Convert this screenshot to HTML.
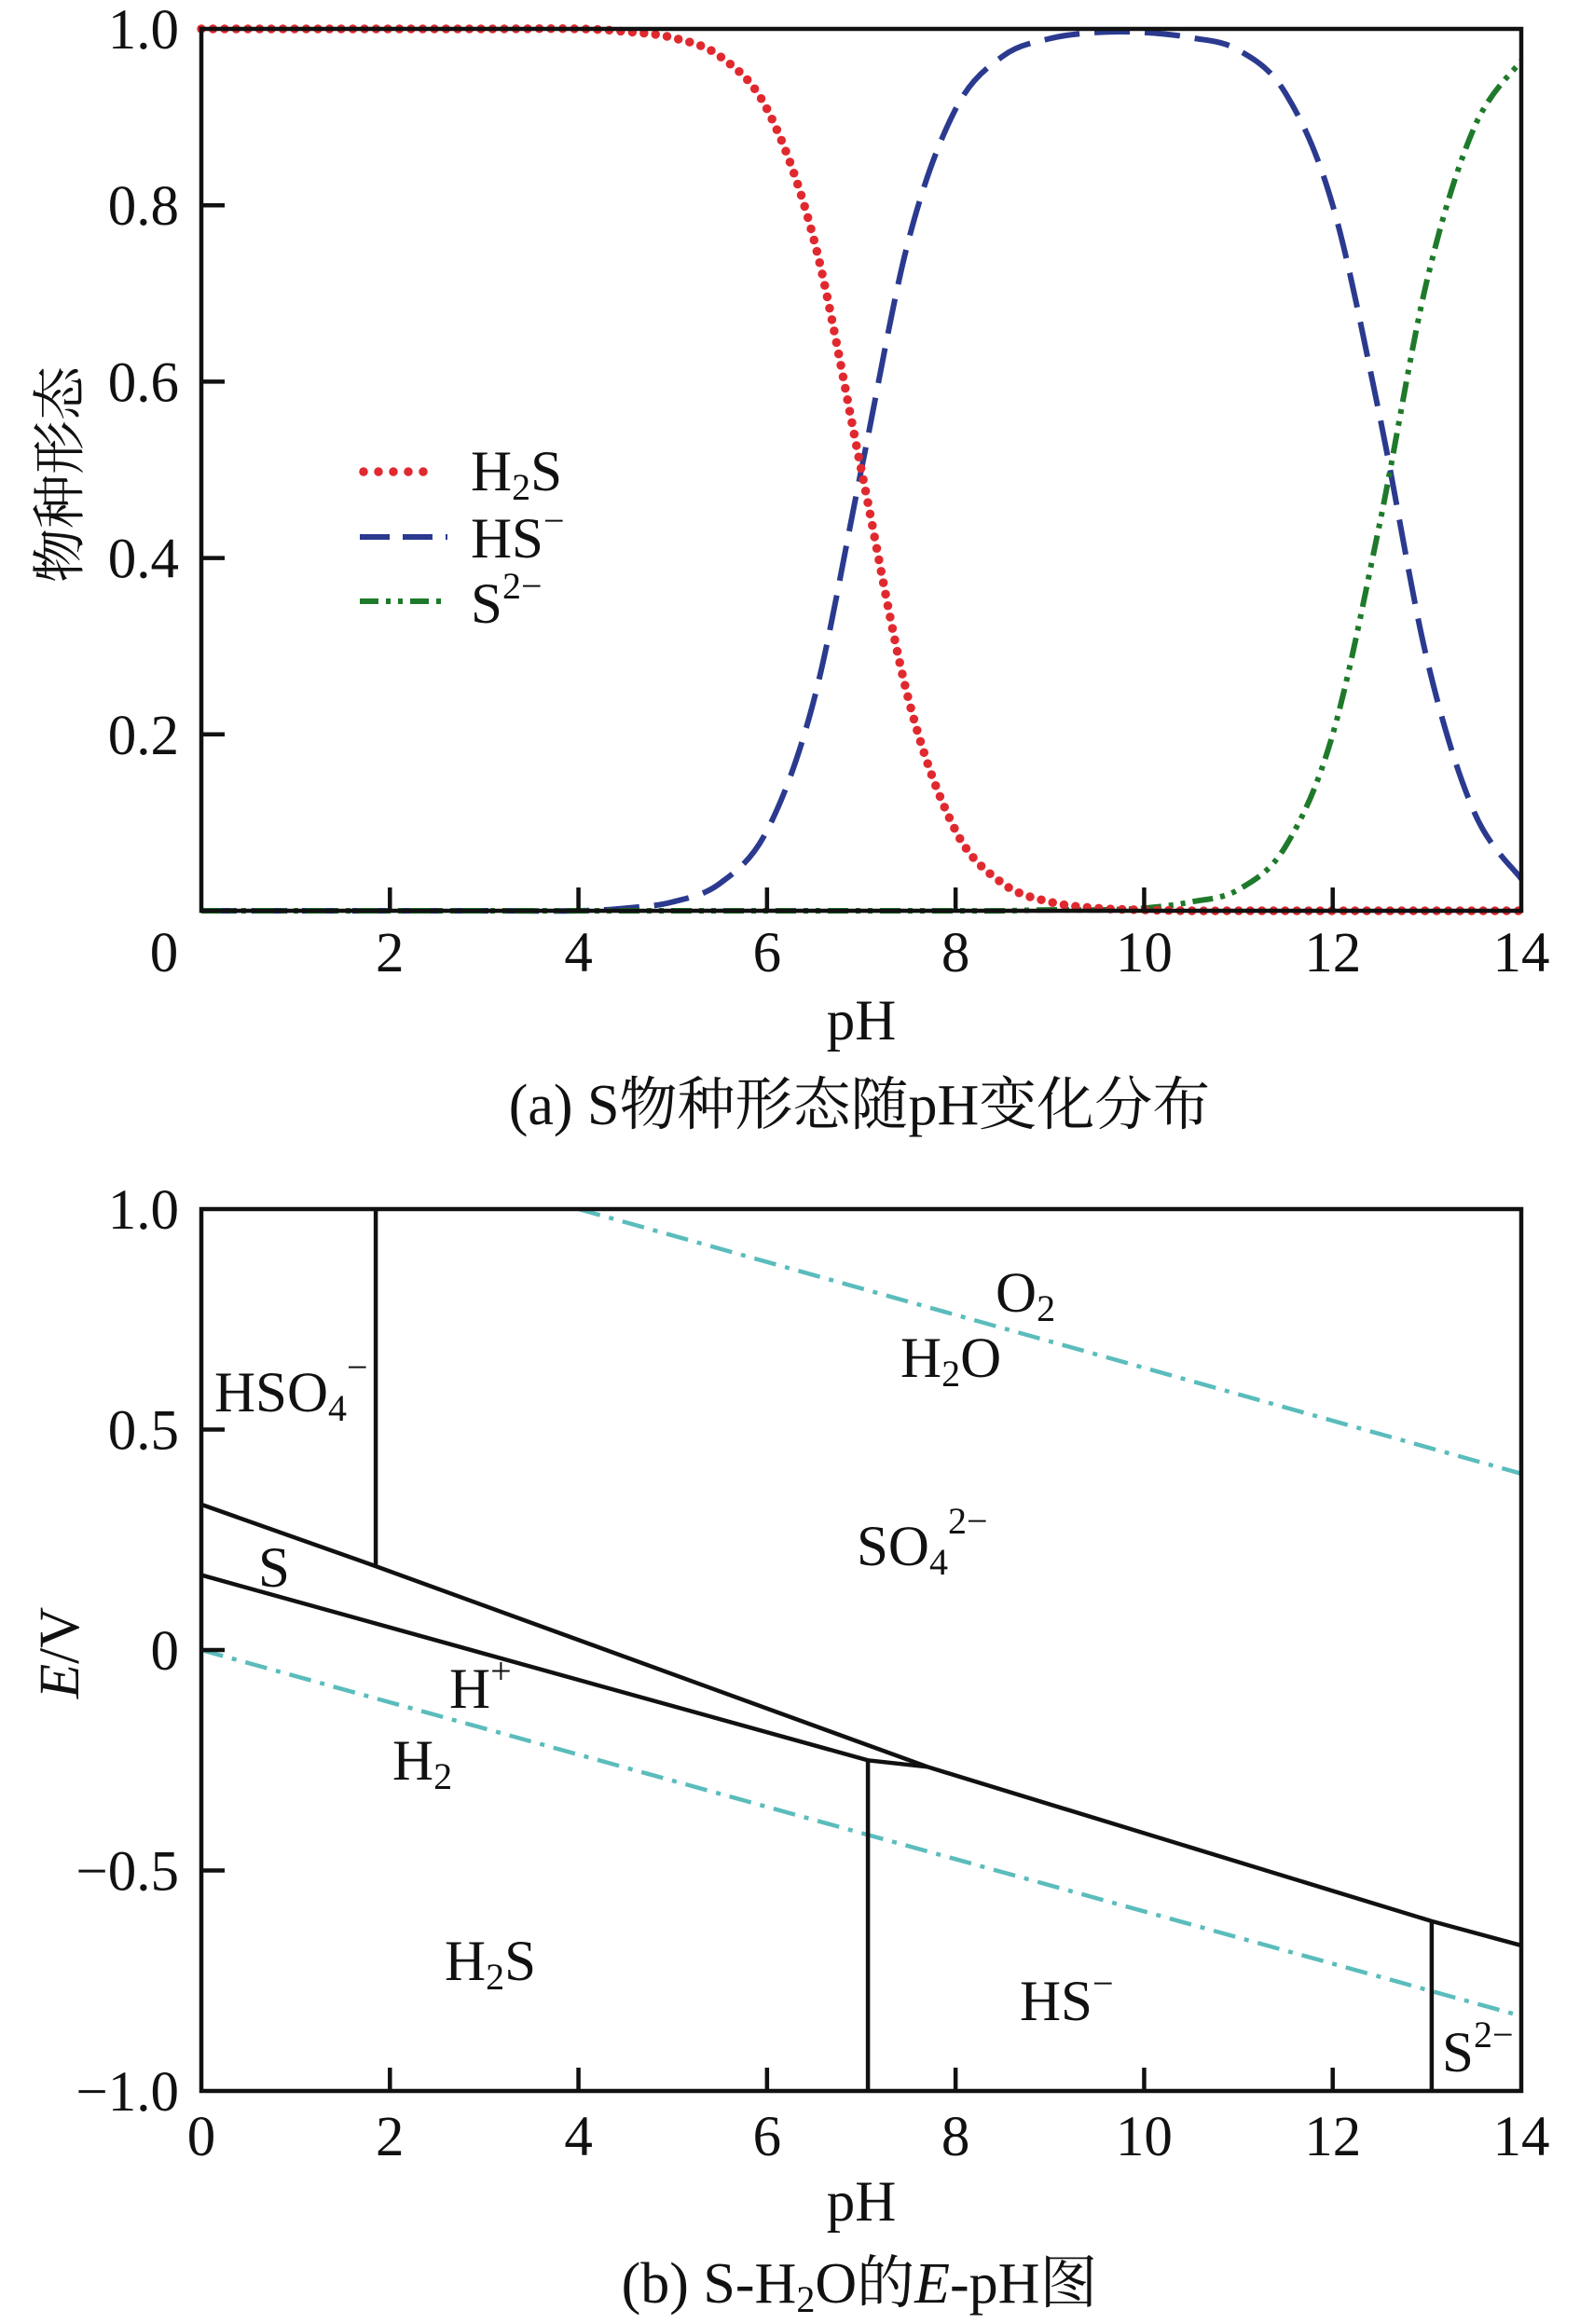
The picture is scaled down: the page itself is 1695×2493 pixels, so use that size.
<!DOCTYPE html>
<html><head><meta charset="utf-8"><style>
html,body{margin:0;padding:0;background:#fff}
svg{display:block}
text{font-family:"Liberation Serif","Noto Serif CJK SC","Noto Sans CJK SC",serif;fill:#111}
</style></head><body>
<svg id="fig" width="1695" height="2493" viewBox="0 0 1695 2493" xmlns="http://www.w3.org/2000/svg">
<g id="chartA"></g>
<g id="chartB"></g>
</svg>
<script>
// ---- Chart A data ----
const phA = [0,1,2,3,4,4.5,5,5.5,6,6.5,7,7.5,8,8.5,9,9.5,10,10.5,11,11.5,12,12.5,13,13.5,14];
const h2sVals = [1,1,1,1,1,0.997,0.990,0.969,0.909,0.760,0.5,0.240,0.091,0.031,0.010,0.003,0.001,0,0,0,0,0,0,0,0];
const hsVals  = [0,0,0,0,0,0.003,0.010,0.031,0.091,0.240,0.5,0.760,0.909,0.969,0.989,0.996,0.996,0.990,0.976,0.927,0.800,0.560,0.285,0.112,0.036];
const s2Vals  = [0,0,0,0,0,0,0,0,0,0,0,0,0,0,0.001,0.001,0.003,0.010,0.024,0.073,0.200,0.440,0.715,0.888,0.964];
const xTicksA = [0,2,4,6,8,10,12,14];
const yTicksA = [0.2,0.4,0.6,0.8,1.0];
const yTickLabelsA = ["0.2","0.4","0.6","0.8","1.0"];
// ---- Chart B data ----
const xTicksB = [0,2,4,6,8,10,12,14];
const yTicksB = [1.0,0.5,0,-0.5,-1.0];
const yTickLabelsB = ["1.0","0.5","0","\u22120.5","\u22121.0"];
const upperLinePH = [0,1.85,7.7,13.05,14];
const upperLineE  = [0.33,0.19,-0.265,-0.615,-0.67];
const lowerLinePH = [0,7.07,7.7];
const lowerLineE  = [0.17,-0.25,-0.265];
const hso4VertPH = [1.85,1.85], hso4VertE = [1.0,0.19];
const hsVertPH = [7.07,7.07], hsVertE = [-0.25,-1.0];
const s2VertPH = [13.05,13.05], s2VertE = [-0.615,-1.0];
const o2LinePH = [4,14], o2LineE = [1.0,0.40];
const h2LinePH = [0,14], h2LineE = [0.0,-0.83];

const NS="http://www.w3.org/2000/svg";
function mk(tag, parent, attrs){const e=document.createElementNS(NS,tag);for(const k in attrs)e.setAttribute(k,attrs[k]);parent.appendChild(e);return e;}

const XL=216, XR=1632;
const xA=v=>XL+(XR-XL)*v/14;
const yA=v=>977-(977-31)*v;
const yB=v=>1770-473*v;

function smoothPath(xs,ys,fx,fy){
  const p=xs.map((x,i)=>[fx(x),fy(ys[i])]);
  let d="M"+p[0][0]+","+p[0][1];
  for(let i=0;i<p.length-1;i++){
    const p0=p[Math.max(0,i-1)],p1=p[i],p2=p[i+1],p3=p[Math.min(p.length-1,i+2)];
    const c1=[p1[0]+(p2[0]-p0[0])/6,p1[1]+(p2[1]-p0[1])/6];
    const c2=[p2[0]-(p3[0]-p1[0])/6,p2[1]-(p3[1]-p1[1])/6];
    d+=` C${c1[0].toFixed(1)},${c1[1].toFixed(1)} ${c2[0].toFixed(1)},${c2[1].toFixed(1)} ${p2[0].toFixed(1)},${p2[1].toFixed(1)}`;
  }
  return d;
}
function polyPath(xs,ys,fx,fy){return xs.map((x,i)=>(i?"L":"M")+fx(x).toFixed(1)+","+fy(ys[i]).toFixed(1)).join(" ");}

// ===== Chart A =====
const A=document.getElementById('chartA');
let e;
e=mk('path',A,{d:smoothPath(phA,hsVals,xA,yA),fill:'none',stroke:'#2b3a8f','stroke-width':6,'stroke-dasharray':'38 16'});


e=mk('path',A,{d:smoothPath(phA,s2Vals,xA,yA),fill:'none',stroke:'#1e7a2a','stroke-width':6,'stroke-dasharray':'22 8 5 8 5 8'});


e=mk('path',A,{d:smoothPath(phA,h2sVals,xA,yA),fill:'none',stroke:'#e0292f','stroke-width':9.5,'stroke-linecap':'round','stroke-dasharray':'0 12.5'});


e=mk('rect',A,{x:XL,y:yA(1),width:XR-XL,height:yA(0)-yA(1),fill:'none',stroke:'#111','stroke-width':4.5});


xTicksA.forEach(t=>{
  if(t>0&&t<14){const l=mk('line',A,{x1:xA(t),x2:xA(t),y1:977,y2:952,stroke:'#111','stroke-width':4.5});
  
  }
  const tx=mk('text',A,{x:t===0?176:xA(t),y:1042,'font-size':61,'text-anchor':'middle'});tx.textContent=String(t);
  
  
});
yTicksA.forEach((t,i)=>{
  if(t<1){const l=mk('line',A,{x1:XL,x2:XL+25,y1:yA(t),y2:yA(t),stroke:'#111','stroke-width':4.5});
  
  }
  const tx=mk('text',A,{x:192,y:yA(t)+21,'font-size':61,'text-anchor':'end'});tx.textContent=yTickLabelsA[i];
  
  
});
</script>
<svg style="position:absolute;left:0;top:0" width="1695" height="2493">
<g font-family="Liberation Serif, Noto Serif CJK SC, serif" fill="#111">
<text transform="translate(84,509) rotate(-90)" font-size="58" text-anchor="middle" font-family="Noto Sans CJK SC, sans-serif">物种形态</text>
<text x="924" y="1115" font-size="61" text-anchor="middle">pH</text>
<text x="922" y="1206" font-size="62" text-anchor="middle">(a) S物种形态随pH变化分布</text>
<g>
<line x1="390" x2="470" y1="506" y2="506" stroke="#e0292f" stroke-width="9.5" stroke-linecap="round" stroke-dasharray="0 16"/>
<text x="505" y="526" font-size="61">H<tspan font-size="40" dy="10">2</tspan><tspan dy="-10">S</tspan></text>
<line x1="386" x2="480" y1="576" y2="576" stroke="#2b3a8f" stroke-width="6" stroke-dasharray="32 14"/>
<text x="505" y="598" font-size="61">HS<tspan font-size="40" dy="-26">−</tspan></text>
<line x1="386" x2="477" y1="645" y2="645" stroke="#1e7a2a" stroke-width="6" stroke-dasharray="20 8 5 8 5 8"/>
<text x="505" y="668" font-size="61">S<tspan font-size="40" dy="-26">2−</tspan></text>
</g>
<text transform="translate(84,1773) rotate(-90)" font-size="61" text-anchor="middle" font-style="italic">E<tspan font-style="normal">/V</tspan></text>
<text x="924" y="2382" font-size="61" text-anchor="middle">pH</text>
<text x="922" y="2470" font-size="62" text-anchor="middle">(b) S-H<tspan font-size="40" dy="10">2</tspan><tspan dy="-10">O的</tspan><tspan font-style="italic">E</tspan>-pH图</text>
<text x="230" y="1514" font-size="61">HSO<tspan font-size="40" dy="10">4</tspan><tspan font-size="40" dy="-44">−</tspan></text>
<text x="277" y="1702" font-size="61">S</text>
<text x="919" y="1679" font-size="61">SO<tspan font-size="40" dy="10">4</tspan><tspan font-size="40" dy="-44">2−</tspan></text>
<text x="477" y="2124" font-size="61">H<tspan font-size="40" dy="10">2</tspan><tspan dy="-10">S</tspan></text>
<text x="1094" y="2167" font-size="61">HS<tspan font-size="40" dy="-26">−</tspan></text>
<text x="1547" y="2222" font-size="61">S<tspan font-size="40" dy="-26">2−</tspan></text>
<text x="482" y="1832" font-size="61" fill="#5bbcbc">H<tspan font-size="40" dy="-26">+</tspan></text>
<text x="421" y="1909" font-size="61" fill="#5bbcbc">H<tspan font-size="40" dy="10">2</tspan></text>
<text x="1068" y="1407" font-size="61" fill="#5bbcbc">O<tspan font-size="40" dy="10">2</tspan></text>
<text x="966" y="1477" font-size="61" fill="#5bbcbc">H<tspan font-size="40" dy="10">2</tspan><tspan dy="-10">O</tspan></text>
</g>
</svg>
<script>
// ===== Chart B =====
const B=document.getElementById('chartB');
function lineB(xs,ys,name,stroke,w,dash){
  const p=mk('path',B,{d:polyPath(xs,ys,xA,yB),fill:'none',stroke:stroke,'stroke-width':w});
  if(dash)p.setAttribute('stroke-dasharray',dash);
  
  
}
lineB(o2LinePH,o2LineE,'o2-h2o-line','#5bbcbc',4.5,'24 10 5 10');
lineB(h2LinePH,h2LineE,'h-h2-line','#5bbcbc',4.5,'24 10 5 10');
lineB(upperLinePH,upperLineE,'sulfate-boundary','#111',4.5,null);
lineB(lowerLinePH,lowerLineE,'sulfur-boundary','#111',4.5,null);
lineB(hso4VertPH,hso4VertE,'hso4-so4-boundary','#111',4.5,null);
lineB(hsVertPH,hsVertE,'h2s-hs-boundary','#111',4.5,null);
lineB(s2VertPH,s2VertE,'hs-s2-boundary','#111',4.5,null);
let r=mk('rect',B,{x:XL,y:yB(1),width:XR-XL,height:yB(-1)-yB(1),fill:'none',stroke:'#111','stroke-width':4.5});


xTicksB.forEach(t=>{
  if(t>0&&t<14){const l=mk('line',B,{x1:xA(t),x2:xA(t),y1:yB(-1),y2:yB(-1)-25,stroke:'#111','stroke-width':4.5});
  
  }
  const tx=mk('text',B,{x:xA(t),y:2312,'font-size':61,'text-anchor':'middle'});tx.textContent=String(t);
  
  
});
yTicksB.forEach((t,i)=>{
  if(t<1&&t>-1){const l=mk('line',B,{x1:XL,x2:XL+25,y1:yB(t),y2:yB(t),stroke:'#111','stroke-width':4.5});
  
  }
  const tx=mk('text',B,{x:192,y:yB(t)+21,'font-size':61,'text-anchor':'end'});tx.textContent=yTickLabelsB[i];
  
  
});
</script>
</body></html>
